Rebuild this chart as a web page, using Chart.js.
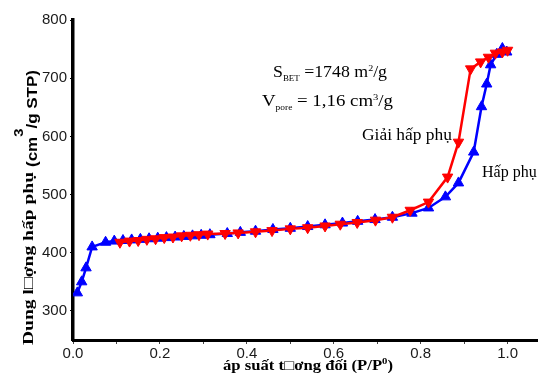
<!DOCTYPE html>
<html lang="vi">
<head>
<meta charset="UTF-8">
<script src="https://cdn.jsdelivr.net/npm/chart.js"></script>
<title>BET isotherm</title>
<style>
    body { margin: 0; background: #fff; }
    .chart-box { width: 538px; height: 373px; }
</style>
</head>
<body>
<div class="chart-box"><canvas id="isoChart" width="538" height="373"></canvas></div>
<script>
// adsorption branch (blue, up triangles)
const adsP = [0.01, 0.02, 0.03, 0.044, 0.075, 0.095, 0.115, 0.135, 0.155, 0.175, 0.195, 0.215, 0.235, 0.255, 0.275, 0.295, 0.315,
              0.355, 0.385, 0.42, 0.46, 0.5, 0.54, 0.58, 0.62, 0.655, 0.695, 0.735, 0.78, 0.818, 0.857, 0.887, 0.922, 0.94, 0.952, 0.961, 0.975, 0.988, 0.998];
const adsV = [331, 350, 374, 410, 418, 420, 421, 422, 423, 424, 425, 426, 427, 428, 429, 430, 431,
              433, 435, 437, 440, 442, 445, 448, 451, 454, 457, 461, 468, 477, 496, 520, 573, 651, 690, 723, 741, 751, 745];

// desorption branch (red, down triangles)
const desP = [1.0, 0.988, 0.972, 0.956, 0.938, 0.915, 0.887, 0.862, 0.818, 0.776, 0.735, 0.696, 0.654, 0.615, 0.58, 0.54, 0.5,
              0.458, 0.42, 0.38, 0.35, 0.31, 0.29, 0.27, 0.25, 0.23, 0.21, 0.19, 0.17, 0.15, 0.13, 0.108];
const desV = [748, 745, 743, 736, 728, 716, 590, 530, 487, 473, 461, 456, 452, 449, 446, 443, 441,
              438, 436, 434, 433, 432, 431, 430, 429, 427, 426, 424, 423, 421, 420, 418];

const xTicks = [0, 0.1, 0.2, 0.3, 0.4, 0.5, 0.6, 0.7, 0.8, 0.9, 1.0];
const yTicks = [300, 400, 500, 600, 700, 800];

const toPts = (xs, ys) => xs.map((x, i) => ({ x: x, y: ys[i] }));

// draws a run of text pieces [text, font, dy], stretched to a given width
function drawRun(ctx, parts, x, y, width) {
    let total = 0;
    parts.forEach(p => { ctx.font = p[1]; total += ctx.measureText(p[0]).width; });
    const k = width ? width / total : 1;
    ctx.save();
    ctx.translate(x, y);
    ctx.scale(k, 1);
    let cx = 0;
    parts.forEach(p => {
        ctx.font = p[1];
        ctx.fillText(p[0], cx, p[2] || 0);
        cx += ctx.measureText(p[0]).width;
    });
    ctx.restore();
}

const serif = "'Liberation Serif', 'Times New Roman', serif";
const sans = "'Liberation Sans', Arial, sans-serif";

const textPlugin = {
    id: 'texts',
    afterDraw(chart) {
        const ctx = chart.ctx;
        ctx.save();
        ctx.fillStyle = '#000';
        ctx.textBaseline = 'alphabetic';
        ctx.textAlign = 'left';

        // y title
        ctx.save();
        ctx.translate(33, 345);
        ctx.rotate(-Math.PI / 2);
        drawRun(ctx, [['Dung l\u25A1ợng hấp phụ', 'bold 15px ' + serif]], 0, 0, 173);
        drawRun(ctx, [['(cm', 'bold 15px ' + sans], ['3', 'bold 13px ' + sans, -14], ['/g STP)', 'bold 15px ' + sans]], 178, 4, 97);
        ctx.restore();

        // x title
        drawRun(ctx, [['áp suất t\u25A1ơng đối (P/P', 'bold 14px ' + serif], ['0', 'bold 9px ' + serif, -6], [')', 'bold 14px ' + serif]], 223, 370, 170);

        // BET values
        drawRun(ctx, [['S', '16px ' + serif], ['BET', '8px ' + serif, 4], [' =1748 m', '16px ' + serif], ['2', '9px ' + serif, -6], ['/g', '16px ' + serif]], 273, 77, 114);
        drawRun(ctx, [['V', '16px ' + serif], ['pore', '8px ' + serif, 4], [' = 1,16 cm', '16px ' + serif], ['3', '9px ' + serif, -6], ['/g', '16px ' + serif]], 262, 106, 131);

        // branch labels
        drawRun(ctx, [['Giải hấp phụ', '16px ' + serif]], 362, 140, 90);
        drawRun(ctx, [['Hấp phụ', '16px ' + serif]], 482, 177, 0);
        ctx.restore();
    }
};

new Chart(document.getElementById('isoChart').getContext('2d'), {
    type: 'scatter',
    data: {
        datasets: [
            {
                label: 'Giải hấp phụ',
                data: toPts(desP, desV),
                showLine: true,
                borderColor: '#ff0000',
                backgroundColor: '#ff0000',
                borderWidth: 2.5,
                pointStyle: 'triangle',
                pointRotation: 180,
                pointRadius: 6,
                pointBorderWidth: 1,
            },
            {
                label: 'Hấp phụ',
                data: toPts(adsP, adsV),
                showLine: true,
                borderColor: '#0000ff',
                backgroundColor: '#0000ff',
                borderWidth: 2.5,
                pointStyle: 'triangle',
                pointRadius: 6,
                pointBorderWidth: 1,
            },
        ],
    },
    options: {
        responsive: false,
        animation: false,
        devicePixelRatio: 1,
        layout: { autoPadding: false, padding: { top: 20, right: 0, bottom: 0, left: 0 } },
        plugins: {
            legend: { display: false },
            tooltip: { enabled: false },
        },
        scales: {
            x: {
                type: 'linear',
                min: 0,
                max: 1.07,
                afterBuildTicks: s => { s.ticks = xTicks.map(v => ({ value: v })); },
                afterFit: s => { s.height = 33; s.paddingLeft = 0; s.paddingRight = 0; },
                grid: { drawOnChartArea: false, drawTicks: true, tickLength: 4, tickColor: '#444' },
                border: { color: '#000', width: 3 },
                ticks: {
                    padding: 1,
                    maxRotation: 0,
                    autoSkip: false,
                    color: '#1a1a1a',
                    font: { family: sans, size: 15 },
                    callback: v => (Math.round(v * 10) % 2 === 0 ? v.toFixed(1) : ''),
                },
            },
            y: {
                min: 250,
                max: 800,
                afterBuildTicks: s => { s.ticks = yTicks.map(v => ({ value: v })); },
                afterFit: s => { s.width = 73; },
                grid: { drawOnChartArea: false, drawTicks: true, tickLength: 3, tickColor: '#000' },
                border: { color: '#000', width: 3.5 },
                ticks: {
                    padding: 3,
                    color: '#1a1a1a',
                    font: { family: sans, size: 15 },
                },
            },
        },
    },
    plugins: [textPlugin],
});
</script>
</body>
</html>
